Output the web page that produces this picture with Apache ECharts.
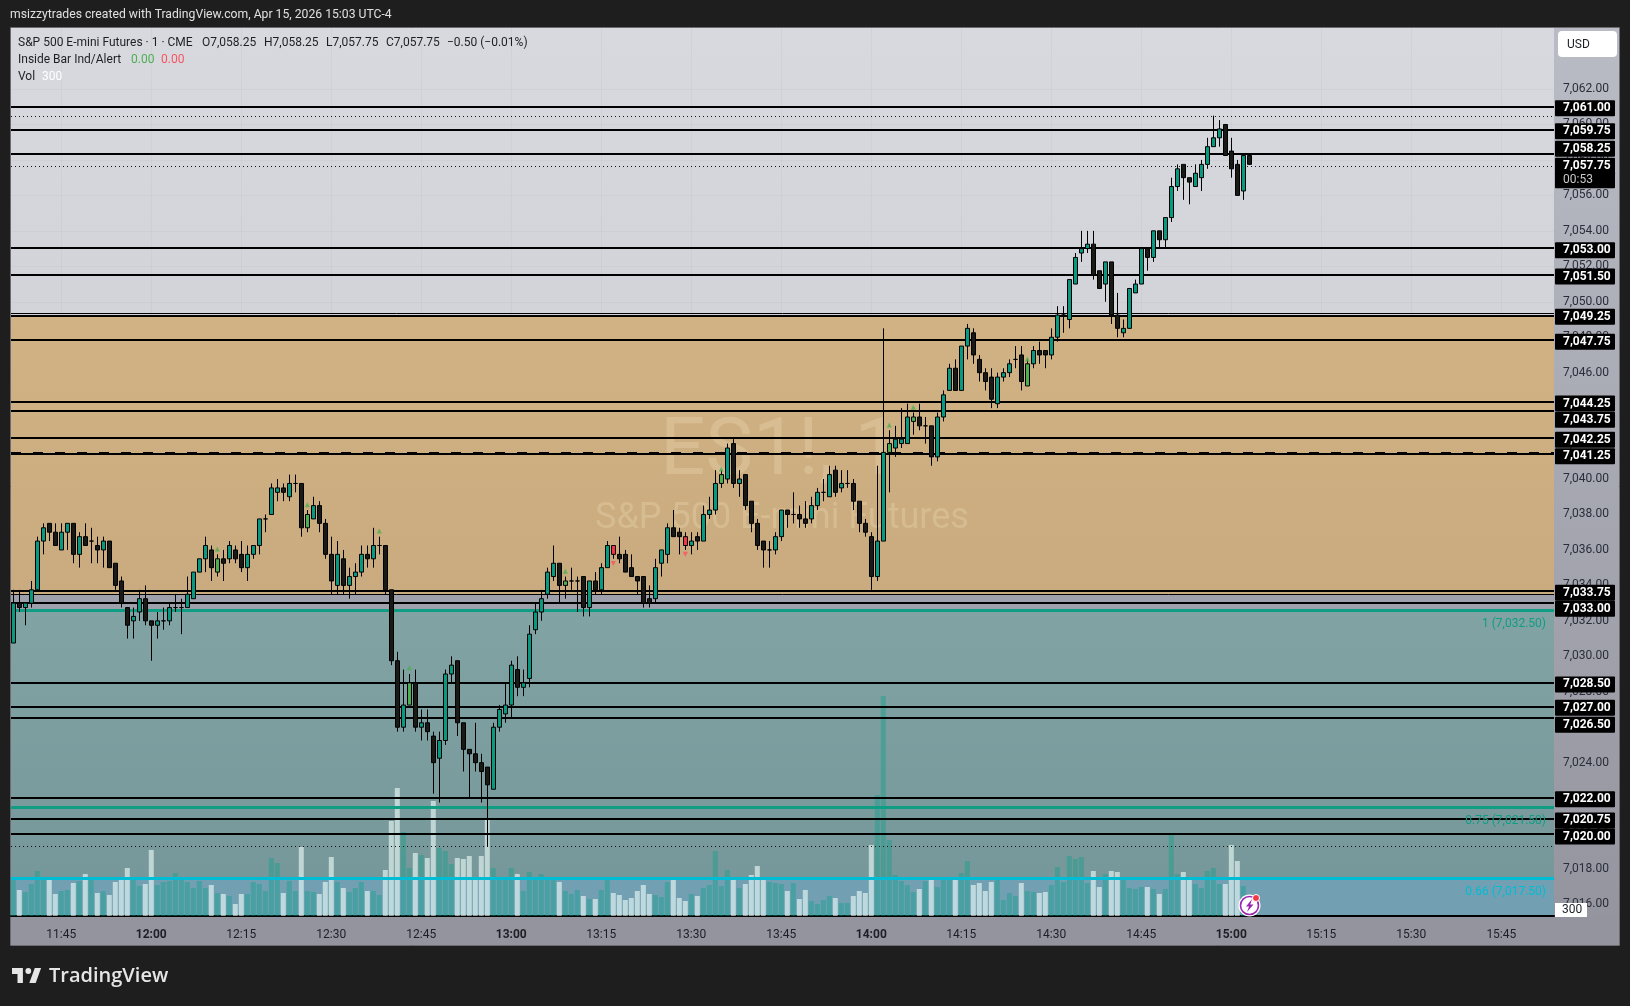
<!DOCTYPE html>
<html><head><meta charset="utf-8">
<style>html,body{margin:0;padding:0;background:#1e1e1e}#c{width:1630px;height:1006px}</style>
<script src="https://cdn.jsdelivr.net/npm/echarts@6/dist/echarts.min.js"></script>
</head><body><div id="c"></div>
<script>
// ---------- data (prices are stored as offset from priceBase) ----------
const priceBase = 7000;
const firstMinute = 697; // 11:37
const opens = [30.75,33,32.75,33,33.75,36.5,37.5,37,36,37,37.5,35.75,36.75,36.5,36.25,36,36.5,35.25,34.25,32.75,
32,32.5,33.25,32,31.75,32,32,32.75,32.75,32.75,33.25,34.75,35.5,36,34.75,35.5,35.5,36,35.75,35,
35.75,36.25,37.75,38,39.25,39.5,39,39.75,39.75,37.25,37.75,38.5,37.5,35.75,34,35.5,34,34.5,34.75,35.75,
35.5,36.25,36.25,33.75,29.75,26,27.25,28.5,26,26.25,25.5,24.25,25.25,29,29.75,26.25,24.75,24.5,24,23.75,
22.5,26,26.75,27.25,29.25,28.25,28.75,31.5,32.5,33.5,34.5,35.25,34,34.25,34.25,34.5,32.75,34.25,33.75,35,
36.25,35.75,35.75,35,34.5,34.5,33.25,33.25,35.25,35.75,37.25,37,36.75,36.25,36.75,36.5,38,38.25,39.75,40,
42,39.75,40.25,38.75,37.5,36.5,36,36,36.75,38.25,38,38,37.75,37.75,38.5,39.25,39,40.5,39.5,39.75,
39.75,38.75,37.5,36.75,34.5,36.5,41.5,41.75,42,42,43.25,43.5,43,43,41.25,43.5,45,46.25,45,47.5,
48.25,46.75,46,45.75,44.25,45.75,46,46.75,47,45.25,46.5,47.25,47.25,47,48,49.25,49,51,52.75,53,
53.25,51.75,51,52.25,49.25,48.25,48.5,50.5,51,53,52.5,54,53.5,54.75,56.5,57.75,57,56.5,57,57.75,
58.75,59.25,60,58.5,57.75,56.25,58.25];
const closes = [33,32.75,33,33.75,36.5,37.25,37,36.25,37,37.5,35.75,36.75,36.25,36.5,36,36.5,35,34,33,31.75,
32.25,33.25,32,31.75,32,32,32.75,32.75,32.75,33.5,34.75,35.5,36.25,35,35.5,35.25,36.25,35.5,35,35.75,
36.25,37.75,37.75,39.5,39.5,39.25,39.75,39.75,37.25,38,38.5,37.5,35.75,34.25,35.75,34,34.5,34.75,35.75,35.5,
36.25,36.25,33.75,29.75,26,27.25,28.5,26,26.25,25.75,24,25.25,29,29.5,26.25,24.75,24.5,24,23.5,22.75,
26,27,27.25,29.5,28.25,28.5,31.25,32.5,33.25,34.75,35.25,34,34.25,34.25,34.25,32.75,34.25,33.75,35,36.25,
35.75,35.5,34.75,34.5,34.25,33,33,35,36,37.25,36.75,36.75,36.25,36.5,36.5,38,38.25,39.75,40.25,41.75,
39.75,40,38.5,37.5,36.25,36,36,36.75,38.25,38,38,37.75,37.5,38.5,39.25,39.25,40.25,39.25,39.75,39.75,
38.75,37.5,37,34.5,36.5,41.5,42,42.25,42.25,43.5,43.5,43,43,41.25,43.5,44.75,46.25,45,47.5,48.5,
47,46,45.5,44.5,45.75,46,46.5,46.75,45.5,46.5,47.25,47,47,48,49.25,49.25,51.25,52.5,53,53.25,
51.5,50.75,52.25,49.25,48.5,48.5,50.75,51,53,52.5,54,53.5,54.75,56.5,57.5,57,56.75,57.25,57.75,58.75,
59.25,59.75,58.25,57.5,56,58.25,57.75];
const lows = [30.75,32.5,31.75,32.75,33.75,35.75,36.5,36.25,36,36,35.25,35,36.25,35.25,35.25,35,35,33.75,32.75,31,
31,32,31.75,29.75,31,31.5,31.75,32.5,31.25,32.75,33.25,34.75,34.75,34.25,34.5,34.25,35.25,35.25,34.75,34.25,
35.5,35.75,37,38,38.75,38.75,38.75,39.25,36.75,37,37.75,37,35.5,33.5,33.5,33.5,33.25,33.5,34.5,35,
35,35.75,33.5,29.5,25.75,25.75,27.25,25.75,25.25,25.25,22.25,21.75,25,28.5,25.5,23.5,22,23.5,21.75,19.25,
22.5,25.75,26.25,26.5,27.75,27.75,28.25,31.25,32,33.25,34.25,33,33.25,33.75,32.5,32.25,32.25,33.5,33.5,35,
35.5,35.25,34.75,34.5,33.5,32.75,32.75,33,34.5,35.25,36.75,35.75,36,35.75,36,36.5,37.75,38,39.5,39.75,
39.5,39,38.25,37,36,35,35,35.75,36.5,37.25,37.5,37.25,37.25,37.5,38.25,38.75,39,39,39.25,39.5,
38.25,37,36.75,33.75,34.25,36.5,39.25,41.25,41.75,42,42.5,42.75,42,40.75,41,43.25,45,45,45,46.75,
46.5,45.5,45,44,44,45.5,45.75,46.25,45,45.25,46.25,46.5,46.25,46.75,47.75,48.25,48.5,51,52.25,52.75,
51.25,50.75,50,48.75,48,48,48.5,50.5,51,51.75,52.25,53,53,54.5,56.25,55.75,55.5,56.5,56.25,57.5,
58.75,58.75,58.25,57,56,55.75,57.75];
const highs = [33.75,33.75,33,34.25,36.75,37.5,37.5,37.5,37.5,37.5,37.5,37,37.5,37.25,36.75,36.75,36.5,35.25,34.5,32.75,
32.75,33.75,34,32,32.5,32.75,33,33.5,33.25,34.5,34.75,35.5,36.75,36.25,35.75,36,36.5,36.25,36.5,36.25,
36.25,37.75,38,39.75,40,39.75,40.25,40.25,39.75,38.25,39,38.75,37.75,36.75,36.5,36,35,35.25,36.25,36.25,
37.25,36.75,36.25,33.75,30.25,29.25,29,29.25,27,27,25.75,25.75,29.25,30,29.75,26.25,24.75,26.25,24.5,23.75,
26.25,27.25,28.5,29.75,30,29.25,31.75,33,33.75,35,36.25,35.25,34.5,35,34.5,34.5,34.25,34.75,35.25,36.5,
36.25,36.75,36,35.75,34.5,34.5,34,35.5,36,37.5,38.25,37.25,37,37,37,38.5,39,40.5,40.5,42,
42.25,40.5,40.25,38.75,37.75,36.5,36.5,37,38.25,38.25,39.25,38.5,38.75,39,39.5,40,40.75,40.75,40.5,40.5,
40,38.75,37.75,37,40.75,48.5,42.75,43,44,44.25,43.75,44.25,43.5,43,43.75,45,46.5,46.75,47.5,48.75,
48.5,47,46.25,46.25,46,46.25,46.75,47.5,47.5,46.75,47.5,47.75,47.25,48.5,49.75,49.75,51.25,52.75,54,54,
54,51.75,52.25,52.25,50.5,49,50.75,51.25,53,53,54,54,54.75,57,57.75,57.75,57,57.75,58,59.25,
60.5,60.25,60,59.25,58,58.25,58.25];
const volumes = [1800,1300,1200,1600,2250,1800,1800,1100,1250,1300,1650,1750,2100,1800,1150,1250,1050,1700,1800,2400,
1800,1500,1600,3300,1550,1700,1750,2150,1900,1700,1400,1750,1400,1550,1150,1100,1000,600,1100,1100,
1700,1600,1250,2900,2650,1150,1750,1250,3450,1250,1200,1100,1700,2950,1700,1400,1200,1400,1700,1250,
1250,1050,2300,4750,6400,4200,2400,3150,3050,2900,5750,3400,3250,2600,2900,2850,3000,1900,3000,4800,
2400,1900,1900,2400,2100,1250,2200,1900,2100,1900,1900,1700,1250,1100,1300,1000,850,850,1300,1850,
1150,1050,800,900,1250,1550,1100,1050,950,1700,1800,900,750,1100,1000,1400,1550,3250,1500,2300,
1800,1400,1600,2050,2500,1800,1700,1650,1600,1250,1650,850,1300,750,600,800,1000,900,650,650,
1000,1250,1150,3550,6050,11000,3800,2050,1750,1550,1200,1350,1750,1800,1450,1900,1900,1800,2150,2750,
1550,1650,1250,1700,1900,800,1150,1000,1650,1250,1200,1150,1200,1550,2450,1700,3000,2850,2950,1650,
2250,1450,2100,2250,2200,1800,1400,1350,1450,1450,1350,1100,1350,4050,2100,2200,1800,1600,1400,2250,
2400,1600,1600,3550,2750,1500,300];
// inside-bar candles (bar numbers) and their alert markers
const insideUpBars = [34,49,66,92,118,146,150,169];
const insideDownBars = [100,112];
const upSignalBars = [34,49,61,66,92,118,146,150,169];
const upSignalPrices = [7036.05,7038.55,7037.07,7029.35,7034.8,7040.57,7043.05,7044.05,7046.77];
const downSignalBars = [100,112];
const downSignalPrices = [7035.24,7035.75];
// axes
const timeLabels = ['11:45','12:00','12:15','12:30','12:45','13:00','13:15','13:30','13:45','14:00','14:15','14:30','14:45','15:00','15:15','15:30','15:45'];
const priceTicks = [7016,7018,7020,7022,7024,7026,7028,7030,7032,7034,7036,7038,7040,7042,7044,7046,7048,7050,7052,7054,7056,7058,7060,7062];
// horizontal levels
const blackLevels = [7061,7059.725,7058.35,7053.03,7051.52,7049.21,7047.84,7044.36,7043.85,7042.31,7041.41,7033.68,7033.02,7028.51,7027.16,7026.52,7022.03,7020.84,7020];
const thinLevels = [7049.35,7033.5];
const dottedLevels = [7060.45,7057.67,7019.28];
const dashedLevels = [7041.48];
const tealLevels = [7032.6,7021.49];
const cyanLevels = [7017.48];
// price tags: position on the scale and the text shown
const tagPrices = [7060.92,7059.62,7058.63,7057.67,7052.9,7051.42,7049.15,7047.74,7044.26,7043.35,7042.21,7041.28,7033.58,7032.68,7028.41,7027.1,7026.14,7021.93,7020.74,7019.83];
const tagTexts = ['7,061.00','7,059.75','7,058.25','7,057.75','7,053.00','7,051.50','7,049.25','7,047.75','7,044.25','7,043.75','7,042.25','7,041.25','7,033.75','7,033.00','7,028.50','7,027.00','7,026.50','7,022.00','7,020.75','7,020.00'];
const countdownPrice = 7056.85;
const countdownText = '00:53';
const volumeTag = 300;
// zones (upper, lower price)
const tanZone = [7049.16,7033.5];
const grayZone = [7033.5,7032.6];
const tealZone = [7032.6,7017.48];
const blueZone = [7017.48,7015.35];

// ---------- build ----------
const FONT = 'Roboto';
const toMin = s => { const p = s.split(':'); return +p[0]*60 + +p[1]; };
const minutes = opens.map((_, i) => firstMinute + i);
const tickMinutes = timeLabels.map(toMin);
const fmt = v => v.toLocaleString('en-US', {minimumFractionDigits:2, maximumFractionDigits:2});
const yMin = 7015.35, yMax = 7065.5;

const candleData = minutes.map((m, i) => {
  const item = {value:[m, priceBase+opens[i], priceBase+closes[i], priceBase+lows[i], priceBase+highs[i]]};
  if (insideUpBars.includes(i)) item.itemStyle = {color:'#4caf50', color0:'#4caf50'};
  if (insideDownBars.includes(i)) item.itemStyle = {color:'#f23645', color0:'#f23645'};
  return item;
});
const volData = minutes.map((m, i) => ({
  value:[m, volumes[i]],
  itemStyle:{color: closes[i] >= opens[i] ? 'rgba(14,160,140,0.42)' : 'rgba(240,255,252,0.6)'}
}));
const ln = (v, color, width, type) => ({yAxis:v, lineStyle:{color, width, type:type||'solid'}, label:{show:false}});
const lineData = [
  ...thinLevels.map(v => ln(v,'#000',1)),
  ...dottedLevels.map(v => ln(v,'#111',1,[1,3])),
  ...blackLevels.map(v => ln(v,'#000',2)),
  ...dashedLevels.map(v => ln(v,'#000',2,[10,12])),
  ...tealLevels.map(v => ln(v,'#0f9d84',3)),
  ...cyanLevels.map(v => ln(v,'#00bcd4',3))
];
const lab = (txt, color) => ({show:true, formatter:txt, position:'insideEndBottom', distance:8, color, fontFamily:FONT, fontSize:12});
lineData.find(d => d.yAxis === tealLevels[0]).label = lab('1 (7,032.50)','#0f9d84');
lineData.find(d => d.yAxis === tealLevels[1]).label = lab('0.75 (7,021.50)','#0f9d84');
lineData.find(d => d.yAxis === cyanLevels[0]).label = lab('0.66 (7,017.50)','#00bcd4');

const grad = (a,b) => ({type:'linear',x:0,y:0,x2:0,y2:1,colorStops:[{offset:0,color:a},{offset:1,color:b}]});
const zone = (r, color) => [{yAxis:r[0], itemStyle:{color}}, {yAxis:r[1]}];
const legendText = (x,y,text,fill,size) => ({type:'text',z:20,silent:true,x,y,style:{text,fill,font:(size||12)+'px '+FONT,textVerticalAlign:'middle'}});

const option = {
  animation:false,
  backgroundColor:'#1e1e1e',
  textStyle:{fontFamily:FONT},
  grid:{left:11,right:76,top:27,bottom:90,show:false},
  xAxis:{type:'value',min:696.62,max:953.78,
    axisLine:{show:true,onZero:false,lineStyle:{color:'#000',width:2}},
    axisTick:{show:false,customValues:tickMinutes},
    splitLine:{show:true,lineStyle:{color:'rgba(90,100,110,0.05)',width:1}},
    axisLabel:{customValues:tickMinutes,margin:13,hideOverlap:false,
      formatter:v=>{const s=Math.floor(v/60)+':'+String(v%60).padStart(2,'0');return (v%60===0?'{b|':'{n|')+s+'}';},
      rich:{b:{fontFamily:FONT,fontSize:12,fontWeight:'bold',color:'#1c1f26'},n:{fontFamily:FONT,fontSize:12,color:'#1c1f26'}}}
  },
  yAxis:[{type:'value',position:'right',min:yMin,max:yMax,
    axisLine:{show:false},axisTick:{show:false,customValues:priceTicks},
    splitLine:{show:true,lineStyle:{color:'rgba(90,100,110,0.05)',width:1}},
    axisLabel:{customValues:priceTicks,margin:1,hideOverlap:false,
      formatter:v=>'{p|'+fmt(v)+'}',
      rich:{p:{fontFamily:FONT,fontSize:12,color:'#2a2e39',padding:[0,8,0,8],width:44}}}
  },{type:'value',position:'right',min:0,max:44450,
    axisLine:{show:false},axisTick:{show:false},splitLine:{show:false},
    axisLabel:{customValues:[volumeTag],margin:1,hideOverlap:false,formatter:v=>'{v|'+v+'}',
      rich:{v:{fontFamily:FONT,fontSize:12,color:'#1c1f26',backgroundColor:'#fff',padding:[1,7,1,7],width:18,lineHeight:13}}}
  },{type:'value',position:'right',min:yMin,max:yMax,
    axisLine:{show:false},axisTick:{show:false},splitLine:{show:false},
    axisLabel:{customValues:[...tagPrices,countdownPrice],margin:1,hideOverlap:false,
      formatter:v=>{
        const i=tagPrices.indexOf(v);
        return i>=0 ? '{tag|'+tagTexts[i]+'}' : '{cd|'+countdownText+'}';
      },
      rich:{
        tag:{fontFamily:FONT,fontSize:12,fontWeight:'bold',color:'#fff',backgroundColor:'#000',padding:[2,8,2,8],width:44,lineHeight:13,borderRadius:1},
        cd:{fontFamily:FONT,fontSize:12,color:'#c8c8c8',backgroundColor:'#000',padding:[2,8,2,8],width:44,lineHeight:13,borderRadius:1}
      }}
  }],
  graphic:[
    {type:'rect',z:-10,silent:true,shape:{x:10.5,y:27.5,width:1609,height:918},style:{fill:'#000',stroke:'#6b6b70',lineWidth:1}},
    {type:'rect',z:-9,silent:true,shape:{x:11,y:28,width:1543,height:888},style:{fill:grad('#d7d9de','#c6c8ce')}},
    {type:'rect',z:-9,silent:true,shape:{x:1554,y:28,width:65,height:888},style:{fill:grad('#b9bbc5','#94959f')}},
    {type:'rect',z:-9,silent:true,shape:{x:11,y:916,width:1608,height:29},style:{fill:'#93949e'}},
    {type:'rect',z:20,silent:true,shape:{x:1558,y:31,width:59,height:26,r:4},style:{fill:'#fff'}},
    legendText(1567,45,'USD','#1c1f26'),
    legendText(10,15,'msizzytrades created with TradingView.com, Apr 15, 2026 15:03 UTC-4','#e0e0e0',12.2),
    legendText(18,43,'S&P 500 E-mini Futures · 1 · CME','#1d1f25'),
    legendText(202,43,'O7,058.25','#1d1f25'),
    legendText(264,43,'H7,058.25','#1d1f25'),
    legendText(326,43,'L7,057.75','#1d1f25'),
    legendText(386,43,'C7,057.75','#1d1f25'),
    legendText(447,43,'−0.50 (−0.01%)','#1d1f25'),
    legendText(18,60,'Inside Bar Ind/Alert','#1d1f25'),
    legendText(131,60,'0.00','#4caf50'),
    legendText(161,60,'0.00','#f9525f'),
    legendText(18,77,'Vol','#1d1f25'),
    legendText(42,77,'300','#ffffff'),
    {type:'text',z:1,silent:true,x:660,y:454,style:{text:'ES1!, 1',fill:'rgba(255,240,205,0.22)',font:'80px '+FONT,textVerticalAlign:'middle'}},
    {type:'text',z:1,silent:true,x:595,y:519,style:{text:'S&P 500 E-mini Futures',fill:'rgba(255,240,205,0.22)',font:'36px '+FONT,textVerticalAlign:'middle'}},
    // alert badge
    {type:'circle',z:20,silent:true,shape:{cx:1249.5,cy:905.5,r:11},style:{fill:'#fff'}},
    {type:'circle',z:20,silent:true,shape:{cx:1249.5,cy:905.5,r:9},style:{fill:'#fff',stroke:'#9c27b0',lineWidth:1.6}},
    {type:'polygon',z:21,silent:true,shape:{points:[[1252,899],[1246,906.5],[1249,906.5],[1247,912],[1253.5,904.5],[1250.3,904.5]]},style:{fill:'#9c27b0'}},
    {type:'circle',z:22,silent:true,shape:{cx:1256,cy:898,r:3.5},style:{fill:'#f23645',stroke:'#fff',lineWidth:1}},
    // logo
    {type:'polygon',z:20,silent:true,shape:{points:[[12,968],[22.9,968],[22.9,983],[17.5,983],[17.5,974],[12,974]]},style:{fill:'#e6e6e6'}},
    {type:'polygon',z:20,silent:true,shape:{points:[[35.7,983],[29.3,983],[34.8,968],[41.1,968]]},style:{fill:'#e6e6e6'}},
    {type:'circle',z:20,silent:true,shape:{cx:28.3,cy:971,r:2.9},style:{fill:'#e6e6e6'}},
    {type:'text',z:20,silent:true,x:49,y:976,style:{text:'TradingView',fill:'#e6e6e6',font:'600 20px "Open Sans"',textVerticalAlign:'middle'}}
  ],
  series:[
    {type:'line',name:'zones',data:[],z:0,silent:true,
     markArea:{silent:true,z:0,data:[
       zone(tanZone,grad('#d1b284','#c9ab7f')),
       zone(grayZone,'#9ea0ac'),
       zone(tealZone,grad('#81a3a4','#76989a')),
       zone(blueZone,'#72a0b2')]}},
    {type:'bar',name:'Vol',yAxisIndex:1,barWidth:5,z:2,silent:true,data:volData,clip:true},
    {type:'line',name:'levels',data:[],z:3,silent:true,
     markLine:{silent:true,z:3,symbol:'none',animation:false,data:lineData}},
    {type:'candlestick',name:'ES1!',z:4,barWidth:4,silent:true,encode:{x:0,y:[1,2,3,4]},
     itemStyle:{color:'#089981',color0:'#191916',borderColor:'#000',borderColor0:'#000',borderWidth:1},
     data:candleData},
    {type:'scatter',name:'up alert',z:5,silent:true,symbol:'triangle',symbolSize:[5,5],itemStyle:{color:'#4caf50'},
     data:upSignalBars.map((b,i)=>[minutes[b],upSignalPrices[i]])},
    {type:'scatter',name:'down alert',z:5,silent:true,symbol:'triangle',symbolRotate:180,symbolSize:[5,5],itemStyle:{color:'#f9525f'},
     data:downSignalBars.map((b,i)=>[minutes[b],downSignalPrices[i]])}
  ]
};
const chart = echarts.init(document.getElementById('c'),null,{renderer:'canvas',width:1630,height:1006});
chart.setOption(option);
</script></body></html>
